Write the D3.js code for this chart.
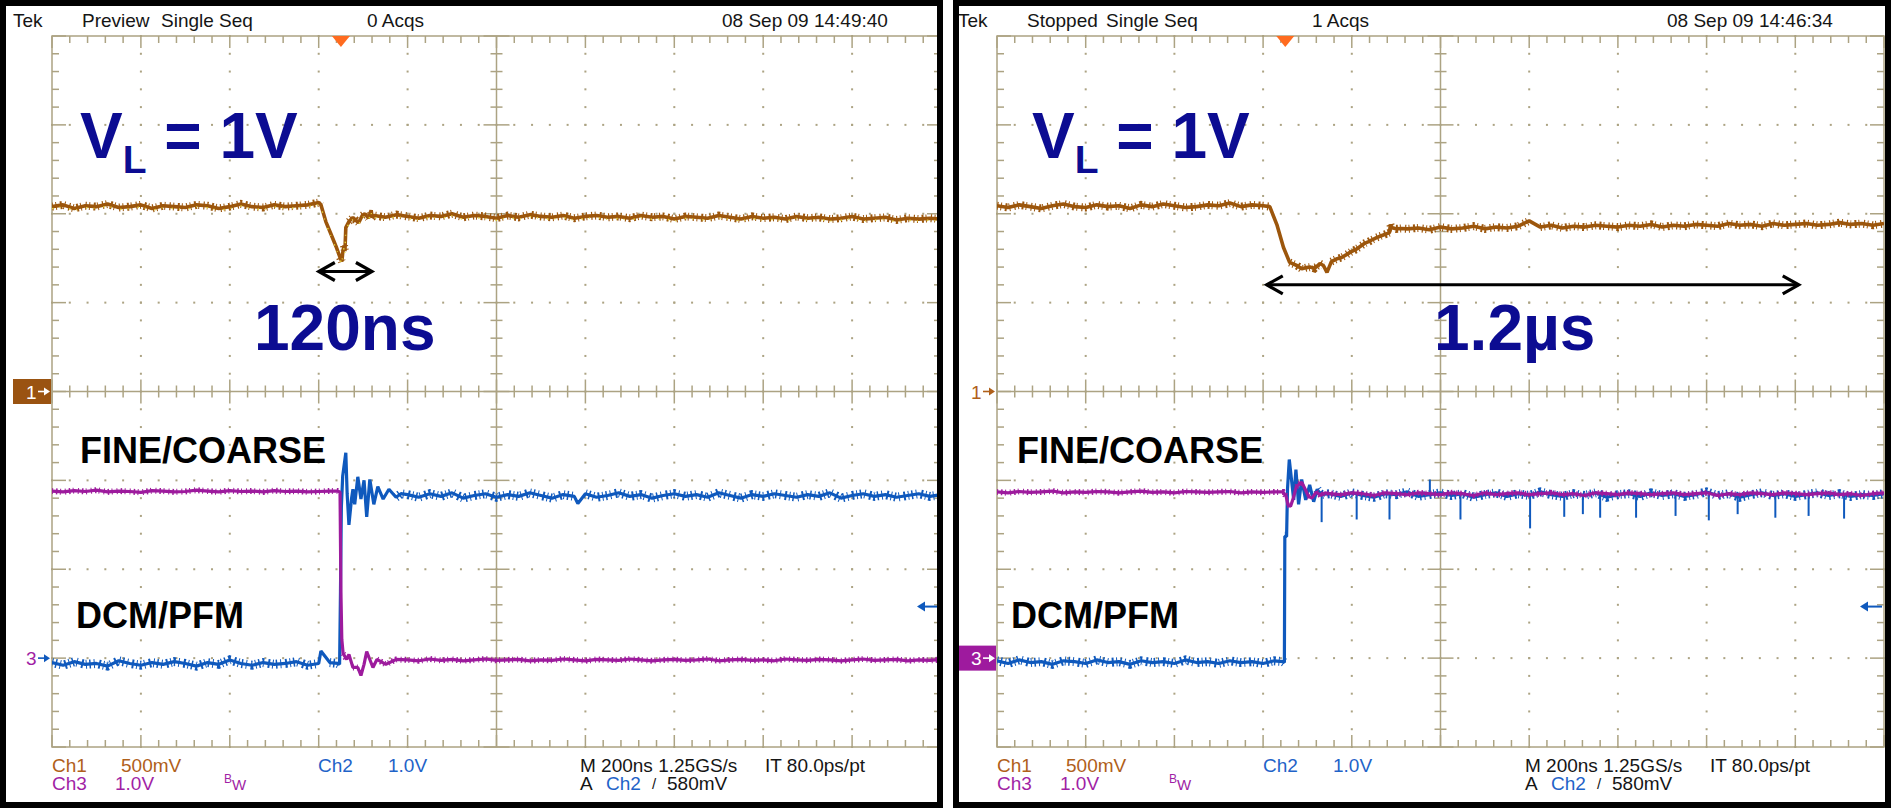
<!DOCTYPE html>
<html>
<head>
<meta charset="utf-8">
<script src="https://cdn.jsdelivr.net/npm/d3@7"></script>
<style>
  html, body { margin: 0; padding: 0; background: #fff; }
  svg { display: block; }
</style>
</head>
<body>
<svg id="scope" width="1893" height="808"></svg>
<script>
document.addEventListener('DOMContentLoaded', () => {

  // ---- scope settings ----
  // time in ns relative to the trigger, 200ns/div, trigger at 3.25 div
  const timeDomain = [-650, 1350];
  const ch1Domain = [-2, 2];     // 500mV/div, ground at centre
  const ch23Domain = [-1, 7];    // 1.0V/div, ground 3 div below centre
  const trigLevel = 0.58;        // A Ch2 580mV
  const sampleStep = 25;         // ns between the typed samples on flat parts

  // ---- texts ----
  const headerLeft = ["Tek", "Preview", "Single Seq", "0 Acqs", "08 Sep 09 14:49:40"];
  const headerRight = ["Tek", "Stopped", "Single Seq", "1 Acqs", "08 Sep 09 14:46:34"];
  const footerRow1 = [["Ch1", "ch1"], ["500mV", "ch1"], ["Ch2", "ch2"], ["1.0V", "ch2"], ["M 200ns 1.25GS/s", "txt"], ["IT 80.0ps/pt", "txt"]];
  const footerRow2 = [["Ch3", "ch3"], ["1.0V", "ch3"], ["A", "txt"], ["Ch2", "ch2"], ["580mV", "txt"]];

  // ---- traces (volts), left screen ----
  const ch1L_pre = [1.04,1.05,1.03,1.045,1.04,1.055,1.035,1.04,1.05,1.03,1.045,1.04,1.035,1.05,1.045,1.03,1.04,1.055,1.04,1.035,1.05,1.04,1.045,1.05];
  const ch1L_edge = [[-55,1.06],[-49,1.063],[-45,1.05],[-34,0.956],[-22,0.883],[-11,0.816],[-2,0.754],[2,0.731],[4,0.78],[7,0.821],[9,0.79],[11,0.922],[18,0.956],[27,0.979],[35,0.96],[40,0.95],[48,0.99],[54,1.0],[62,0.975],[68,1.02],[70,0.98]];
  const ch1L_post = [0.99,0.98,0.995,0.985,0.975,0.99,0.985,1.0,0.98,0.99,
    0.985,0.975,0.99,0.98,0.995,0.985,0.98,0.99,0.975,0.985,
    0.99,0.98,0.985,0.975,0.99,0.98,0.985,0.97,0.985,0.98,
    0.975,0.99,0.98,0.97,0.985,0.975,0.98,0.97,0.985,0.975,
    0.98,0.97,0.975,0.985,0.97,0.975,0.98,0.965,0.975,0.97,0.975,0.97];

  const ch2L_pre = [-0.05,-0.08,-0.04,-0.07,-0.06,-0.09,-0.03,-0.06,-0.08,-0.05,-0.07,-0.04,-0.06,-0.09,-0.05,-0.07,-0.02,-0.06,-0.08,-0.05,-0.07,-0.06,-0.04,-0.08,-0.06,-0.05];
  const ch2L_edge = [[-45,0.08],[-7,-0.06],[-3,-0.07],[-1,0.75],[1,1.7],[4,2.05],[11,2.31],[14,1.85],[18,1.5],[24,1.8],[27,1.9],[31,1.73],[38,2.04],[45,1.79],[52,2.0],[58,1.59],[65,2.01],[74,1.73],[83,1.93],[95,1.79],[108,1.9],[124,1.81],[135,1.85],[533,1.74]];
  const ch2L_post = [1.84,1.81,1.85,1.82,1.86,1.80,1.83,1.85,1.81,1.84,
    1.82,1.86,1.83,1.80,1.84,1.82,1.85,1.81,1.83,1.86,
    1.82,1.84,1.80,1.83,1.85,1.82,1.84,1.81,1.86,1.83,
    1.80,1.84,1.82,1.85,1.83,1.81,1.84,1.82,1.86,1.80,
    1.83,1.85,1.82,1.84,1.81,1.83,1.85,1.82,1.84];

  const ch3L_pre = [1.88,1.87,1.885,1.875,1.89,1.87,1.88,1.875,1.865,1.885,1.88,1.87,1.875,1.89,1.88,1.87,1.885,1.875,1.88,1.87,1.885,1.875,1.88,1.87,1.875,1.88];
  const ch3L_edge = [[-8,1.88],[-2,1.87],[0,0.74],[2,0.21],[5,0.05],[13,-0.015],[18,0.042],[27,-0.105],[38,-0.105],[45,-0.195],[52,-0.07],[58,0.075],[65,-0.015],[72,-0.105],[81,-0.015],[101,-0.07],[124,-0.015]];
  const ch3L_post = [-0.02,-0.03,-0.01,-0.025,-0.015,-0.03,-0.02,-0.01,-0.025,-0.02,
    -0.015,-0.03,-0.02,-0.025,-0.01,-0.02,-0.03,-0.015,-0.02,-0.025,
    -0.01,-0.02,-0.03,-0.02,-0.015,-0.025,-0.02,-0.01,-0.03,-0.02,
    -0.015,-0.025,-0.02,-0.03,-0.01,-0.02,-0.025,-0.015,-0.02,-0.03,
    -0.02,-0.01,-0.025,-0.02,-0.015,-0.03,-0.02,-0.025,-0.015];

  // ---- traces (volts), right screen ----
  const ch1R_pre = [1.045,1.035,1.05,1.04,1.03,1.045,1.055,1.04,1.035,1.05,1.04,1.045,1.03,1.05,1.04,1.055,1.045,1.035,1.04,1.05,1.045,1.06,1.04,1.05,1.045];
  const ch1R_edge = [[-35,1.04],[-19,0.939],[-4,0.81],[10,0.726],[26,0.709],[37,0.69],[48,0.697],[57,0.70],[66,0.692],[78,0.72],[86,0.709],[94,0.67],[104,0.731],[115,0.745],[127,0.754],[138,0.77],[149,0.787],[160,0.80],[172,0.821],[180,0.835],[188,0.843],[197,0.855],[206,0.866],[215,0.875],[224,0.883],[235,0.894],[237,0.94],[239,0.922],[250,0.915],[262,0.917]];
  const ch1R_post = [0.915,0.92,0.91,0.925,0.915,0.92,0.93,0.915,0.925,0.92,
    0.93,0.96,0.925,0.935,0.92,0.93,0.925,0.935,0.93,0.925,
    0.935,0.93,0.94,0.925,0.935,0.93,0.94,0.935,0.93,0.945,
    0.935,0.94,0.93,0.945,0.935,0.94,0.945,0.935,0.94,0.95,
    0.94,0.945,0.935,0.945];

  const ch2R_pre = [-0.03,-0.06,-0.02,-0.05,-0.04,-0.07,-0.03,-0.04,-0.06,-0.02,-0.05,-0.04,-0.07,-0.03,-0.05,-0.04,-0.06,-0.02,-0.05,-0.04,-0.06,-0.03,-0.05,-0.04,-0.06,-0.03];
  const ch2R_edge = [[-5,-0.04],[-2,-0.05],[-1,1.37],[3,1.37],[5,1.9],[9,2.235],[12,2.1],[19,1.78],[24,2.12],[30,1.73],[37,2.01],[46,1.78],[55,1.95],[64,1.76],[72,1.9],[80,1.84]];
  const ch2R_post = [1.85,1.82,1.86,1.83,1.81,1.85,1.84,1.87,1.82,1.84,
    1.86,1.83,1.85,1.81,1.84,1.86,1.82,1.85,1.83,1.87,
    1.84,1.82,1.85,1.83,1.86,1.81,1.84,1.85,1.82,1.86,
    1.83,1.85,1.82,1.84,1.87,1.83,1.85,1.81,1.84,1.86,
    1.83,1.85,1.82,1.84,1.86,1.83,1.85,1.82,1.84,1.83,1.85];
  // glitches on the settled Ch2 trace: [t, from, to]
  const ch2R_spikes = [[82,1.84,1.53],[161,1.84,1.56],[235,1.84,1.56],[326,1.84,2.01],[395,1.84,1.56],[552,1.84,1.46],[629,1.84,1.59],[671,1.84,1.62],[710,1.84,1.58],[791,1.84,1.58],[880,1.84,1.6],[955,1.84,1.55],[1020,1.84,1.62],[1105,1.84,1.58],[1180,1.84,1.6],[1260,1.84,1.57]];

  const ch3R_pre = [1.87,1.86,1.875,1.865,1.87,1.88,1.86,1.87,1.865,1.875,1.87,1.86,1.87,1.88,1.865,1.87,1.86,1.875,1.87,1.865,1.87,1.875,1.86,1.87,1.865,1.87];
  const ch3R_edge = [[-5,1.87],[2,1.82],[6,1.72],[12,1.71],[18,1.8],[25,1.93],[37,1.98],[45,1.9],[52,1.82],[60,1.8],[70,1.87],[80,1.83],[90,1.86]];
  const ch3R_post = [1.85,1.84,1.86,1.85,1.83,1.86,1.85,1.84,1.86,1.85,
    1.84,1.86,1.85,1.83,1.86,1.84,1.85,1.86,1.84,1.85,
    1.86,1.84,1.85,1.83,1.86,1.85,1.84,1.86,1.85,1.84,
    1.85,1.86,1.84,1.85,1.86,1.83,1.85,1.84,1.86,1.85,
    1.84,1.86,1.85,1.84,1.85,1.86,1.84,1.85,1.83,1.85,1.86];

  // the two measured spans (ns) and the height (Ch1 volts) they are drawn at
  const spanLeft = [-52, 72, 0.675];
  const spanRight = [-44, 1160, 0.60];

  // ---- colours ----
  const col = { ch1: "#9c560c", ch2: "#0f59bd", ch3: "#9d1b9d", txt: "#151515" };
  const txtCol = { ch1: "#b0601a", ch2: "#1f63c8", ch3: "#a11fa5", txt: "#151515" };
  const gratColor = "#aca383";
  const labelBlue = "#0c0c92";
  const font = "'Liberation Sans', Arial, sans-serif";

  // samples + edge detail -> sorted [t, v]
  const build = (pre, edge, postStart, post) => pre.map((v, i) => [timeDomain[0] + i * sampleStep, v])
      .concat(edge)
      .concat(post.map((v, i) => [postStart + i * sampleStep, v]))
      .sort((a, b) => a[0] - b[0]);

  const panels = [
    { ox: 0, frame: [3, 940], gx0: 52, gx1: 941, header: headerLeft,
      ch1: build(ch1L_pre, ch1L_edge, 75, ch1L_post),
      ch2: build(ch2L_pre, ch2L_edge, 150, ch2L_post),
      ch3: build(ch3L_pre, ch3L_edge, 150, ch3L_post),
      spikes: [], box: "ch1", speckle: true,
      vl: 80, fine: 80, dcm: 76, span: spanLeft, spanText: "120ns", spanX: 254 },
    { ox: 945, frame: [956, 1888], gx0: 997, gx1: 1884, header: headerRight,
      ch1: build(ch1R_pre, ch1R_edge, 275, ch1R_post),
      ch2: build(ch2R_pre, ch2R_edge, 100, ch2R_post),
      ch3: build(ch3R_pre, ch3R_edge, 100, ch3R_post),
      spikes: ch2R_spikes, box: "ch3", speckle: false,
      vl: 1032, fine: 1017, dcm: 1011, span: spanRight, spanText: "1.2µs", spanX: 1434 }
  ];
  const gy0 = 36, gy1 = 747;
  const headerX = [13, 82, 161, 367, 722];
  const row1X = [52, 121, 318, 388, 580, 765];
  const row2X = [52, 115, 580, 606, 667];

  const svg = d3.select("#scope");
  svg.append("rect").attr("width", 1893).attr("height", 808).attr("fill", "#fff");

  // split a trace where it jumps, so the noise fuzz stays off the steep edges
  const flatRuns = (pts, ys) => {
    const runs = [];
    let cur = [];
    pts.forEach((p, i) => {
      if (i > 0 && Math.abs(ys(p[1]) - ys(pts[i - 1][1])) > 6) {
        if (cur.length > 1) runs.push(cur);
        cur = [];
      }
      cur.push(p);
    });
    if (cur.length > 1) runs.push(cur);
    return runs;
  };

  // a scope trace: solid core plus a dashed wide stroke that reads as sample noise
  const drawTrace = (sel, pts, line, ys, color, core, fuzz, dash) => {
    sel.append("path").attr("d", line(pts)).attr("fill", "none")
        .attr("stroke", color).attr("stroke-width", core).attr("stroke-linejoin", "bevel");
    sel.append("path").attr("d", flatRuns(pts, ys).map(r => line(r)).join("")).attr("fill", "none")
        .attr("stroke", color).attr("stroke-width", fuzz).attr("stroke-dasharray", dash);
  };

  const drawPanel = (P, idx) => {
    const g = svg.append("g");
    const gx = d3.scaleLinear([0, 10], [P.gx0, P.gx1]);
    const gy = d3.scaleLinear([0, 8], [gy0, gy1]);
    const xt = d3.scaleLinear(timeDomain, [P.gx0, P.gx1]);
    const y1 = d3.scaleLinear(ch1Domain, [gy1, gy0]);
    const y23 = d3.scaleLinear(ch23Domain, [gy1, gy0]);

    // dotted graticule
    const dots = [];
    d3.range(1, 10).filter(i => i !== 5).forEach(i => d3.range(0, 41).forEach(j => dots.push([gx(i), gy(j / 5)])));
    d3.range(1, 8).filter(k => k !== 4).forEach(k => d3.range(0, 51).forEach(j => dots.push([gx(j / 5), gy(k)])));
    g.append("g").selectAll("rect").data(dots).join("rect")
        .attr("x", d => d[0] - 1).attr("y", d => d[1] - 1)
        .attr("width", 2).attr("height", 2).attr("fill", gratColor);

    // ticks on frame and centre cross
    const segs = [];
    d3.range(0, 51).forEach(j => {
      const x = gx(j / 5), len = j % 5 === 0 ? 12 : 7, h = j % 5 === 0 ? 12 : 6;
      segs.push([x, gy0, x, gy0 + len], [x, gy1, x, gy1 - len], [x, gy(4) - h, x, gy(4) + h]);
    });
    d3.range(0, 41).forEach(j => {
      const y = gy(j / 5), len = j % 5 === 0 ? 14 : 7, h = j % 5 === 0 ? 13 : 6;
      segs.push([P.gx0, y, P.gx0 + len, y], [P.gx1, y, P.gx1 - len, y], [gx(5) - h, y, gx(5) + h, y]);
    });
    segs.push([gx(5), gy0, gx(5), gy1], [P.gx0, gy(4), P.gx1, gy(4)]);
    g.append("g").selectAll("line").data(segs).join("line")
        .attr("x1", d => d[0]).attr("y1", d => d[1]).attr("x2", d => d[2]).attr("y2", d => d[3])
        .attr("stroke", gratColor).attr("stroke-width", 1.5);
    g.append("rect").attr("x", P.gx0).attr("y", gy0).attr("width", P.gx1 - P.gx0).attr("height", gy1 - gy0)
        .attr("fill", "none").attr("stroke", gratColor).attr("stroke-width", 1.5);

    // traces
    const clipId = "clip" + idx;
    svg.append("clipPath").attr("id", clipId).append("rect")
        .attr("x", P.gx0).attr("y", gy0).attr("width", P.gx1 - P.gx0).attr("height", gy1 - gy0);
    const tg = g.append("g").attr("clip-path", `url(#${clipId})`);
    const line1 = d3.line().x(d => xt(d[0])).y(d => y1(d[1]));
    const line23 = d3.line().x(d => xt(d[0])).y(d => y23(d[1]));

    drawTrace(tg, P.ch2, line23, y23, col.ch2, 3.2, 9, "1 2.5 1.5 3 1 4 2 2.5");
    tg.selectAll("line.spike").data(P.spikes).join("line").attr("class", "spike")
        .attr("x1", d => xt(d[0])).attr("x2", d => xt(d[0]))
        .attr("y1", d => y23(d[1])).attr("y2", d => y23(d[2]))
        .attr("stroke", col.ch2).attr("stroke-width", 2);
    drawTrace(tg, P.ch3, line23, y23, col.ch3, 3.2, 6, "1 3 1.5 2.5 1 4");
    drawTrace(tg, P.ch1, line1, y1, col.ch1, 3.6, 8, "1.2 2.5 1 3.5 2 2 1 4");
    if (P.speckle) {
      tg.append("path").attr("d", line1(P.ch1)).attr("fill", "none")
          .attr("transform", "translate(0,2)")
          .attr("stroke", "#e4d43a").attr("stroke-width", 1.4).attr("stroke-dasharray", "1.5 6 1 9");
    }

    // trigger position marker at the top
    const tx = xt(0);
    g.append("path").attr("d", `M${tx - 9},${gy0}L${tx + 9},${gy0}L${tx},${gy0 + 11}Z`).attr("fill", "#ff6b1f");

    // trigger level arrow on the right edge
    const ty = y23(trigLevel);
    g.append("line").attr("x1", P.gx1 - 18).attr("x2", P.gx1 - 2).attr("y1", ty).attr("y2", ty)
        .attr("stroke", col.ch2).attr("stroke-width", 2);
    g.append("path").attr("d", `M${P.gx1 - 24},${ty}L${P.gx1 - 16},${ty - 5}L${P.gx1 - 16},${ty + 5}Z`).attr("fill", col.ch2);

    // channel ground markers on the left edge
    const marker = (label, y, key) => {
      const boxed = P.box === key;
      const c = boxed ? "#fff" : txtCol[key];
      if (boxed) {
        g.append("rect").attr("x", P.gx0 - 39).attr("y", y - 12.5).attr("width", 38).attr("height", 25)
            .attr("fill", key === "ch1" ? "#9a5311" : "#9e1a9e");
      }
      g.append("text").attr("x", P.gx0 - 26).attr("y", y + 7).text(label)
          .attr("font-family", font).attr("font-size", 19).attr("fill", c);
      const ac = boxed ? "#fff" : (key === "ch3" ? col.ch2 : txtCol[key]);
      g.append("line").attr("x1", P.gx0 - 14).attr("x2", P.gx0 - 6).attr("y1", y).attr("y2", y)
          .attr("stroke", ac).attr("stroke-width", 1.6);
      g.append("path").attr("d", `M${P.gx0 - 2},${y}L${P.gx0 - 8},${y - 4}L${P.gx0 - 8},${y + 4}Z`).attr("fill", ac);
    };
    marker("1", y1(0), "ch1");
    marker("3", y23(0), "ch3");

    // header
    g.selectAll("text.hdr").data(P.header).join("text").attr("class", "hdr")
        .attr("x", (d, i) => P.ox + headerX[i]).attr("y", 27)
        .attr("font-family", font).attr("font-size", 19).attr("fill", col.txt).text(d => d);

    // footer
    g.selectAll("text.r1").data(footerRow1).join("text").attr("class", "r1")
        .attr("x", (d, i) => P.ox + row1X[i]).attr("y", 772)
        .attr("font-family", font).attr("font-size", 19).attr("fill", d => txtCol[d[1]]).text(d => d[0]);
    g.selectAll("text.r2").data(footerRow2).join("text").attr("class", "r2")
        .attr("x", (d, i) => P.ox + row2X[i]).attr("y", 790)
        .attr("font-family", font).attr("font-size", 19).attr("fill", d => txtCol[d[1]]).text(d => d[0]);
    g.append("text").attr("x", P.ox + 224).attr("y", 783).text("B")
        .attr("font-family", font).attr("font-size", 12).attr("fill", txtCol.ch3);
    g.append("text").attr("x", P.ox + 232).attr("y", 790).text("W")
        .attr("font-family", font).attr("font-size", 15).attr("fill", txtCol.ch3);
    g.append("text").attr("x", P.ox + 652).attr("y", 789).text("/")
        .attr("font-family", font).attr("font-size", 15).attr("fill", col.txt);

    // annotations
    const vl = g.append("text").attr("x", P.vl).attr("y", 158)
        .attr("font-family", font).attr("font-weight", "bold").attr("font-size", 64).attr("fill", labelBlue);
    vl.append("tspan").text("V");
    vl.append("tspan").attr("dy", 15).attr("font-size", 39).text("L");
    vl.append("tspan").attr("dy", -15).text(" = 1V");

    g.append("text").attr("x", P.fine).attr("y", 463).text("FINE/COARSE")
        .attr("font-family", font).attr("font-weight", "bold").attr("font-size", 36).attr("fill", "#000");
    g.append("text").attr("x", P.dcm).attr("y", 628).text("DCM/PFM")
        .attr("font-family", font).attr("font-weight", "bold").attr("font-size", 36).attr("fill", "#000");

    const [sa, sb, sv] = P.span;
    const ax0 = xt(sa), ax1 = xt(sb), ay = y1(sv);
    g.append("line").attr("x1", ax0 + 1).attr("x2", ax1 - 1).attr("y1", ay).attr("y2", ay)
        .attr("stroke", "#000").attr("stroke-width", 3);
    g.append("path").attr("d", `M${ax0 + 17},${ay - 9}L${ax0 + 1},${ay}L${ax0 + 17},${ay + 9}`)
        .attr("fill", "none").attr("stroke", "#000").attr("stroke-width", 3.2);
    g.append("path").attr("d", `M${ax1 - 17},${ay - 9}L${ax1 - 1},${ay}L${ax1 - 17},${ay + 9}`)
        .attr("fill", "none").attr("stroke", "#000").attr("stroke-width", 3.2);
    g.append("text").attr("x", P.spanX).attr("y", 350).text(P.spanText)
        .attr("font-family", font).attr("font-weight", "bold").attr("font-size", 64).attr("fill", labelBlue);

    // black screen border
    g.append("rect").attr("x", P.frame[0]).attr("y", 3).attr("width", P.frame[1] - P.frame[0]).attr("height", 802)
        .attr("fill", "none").attr("stroke", "#000").attr("stroke-width", 6);
  };

  panels.forEach(drawPanel);
});
</script>
</body>
</html>
